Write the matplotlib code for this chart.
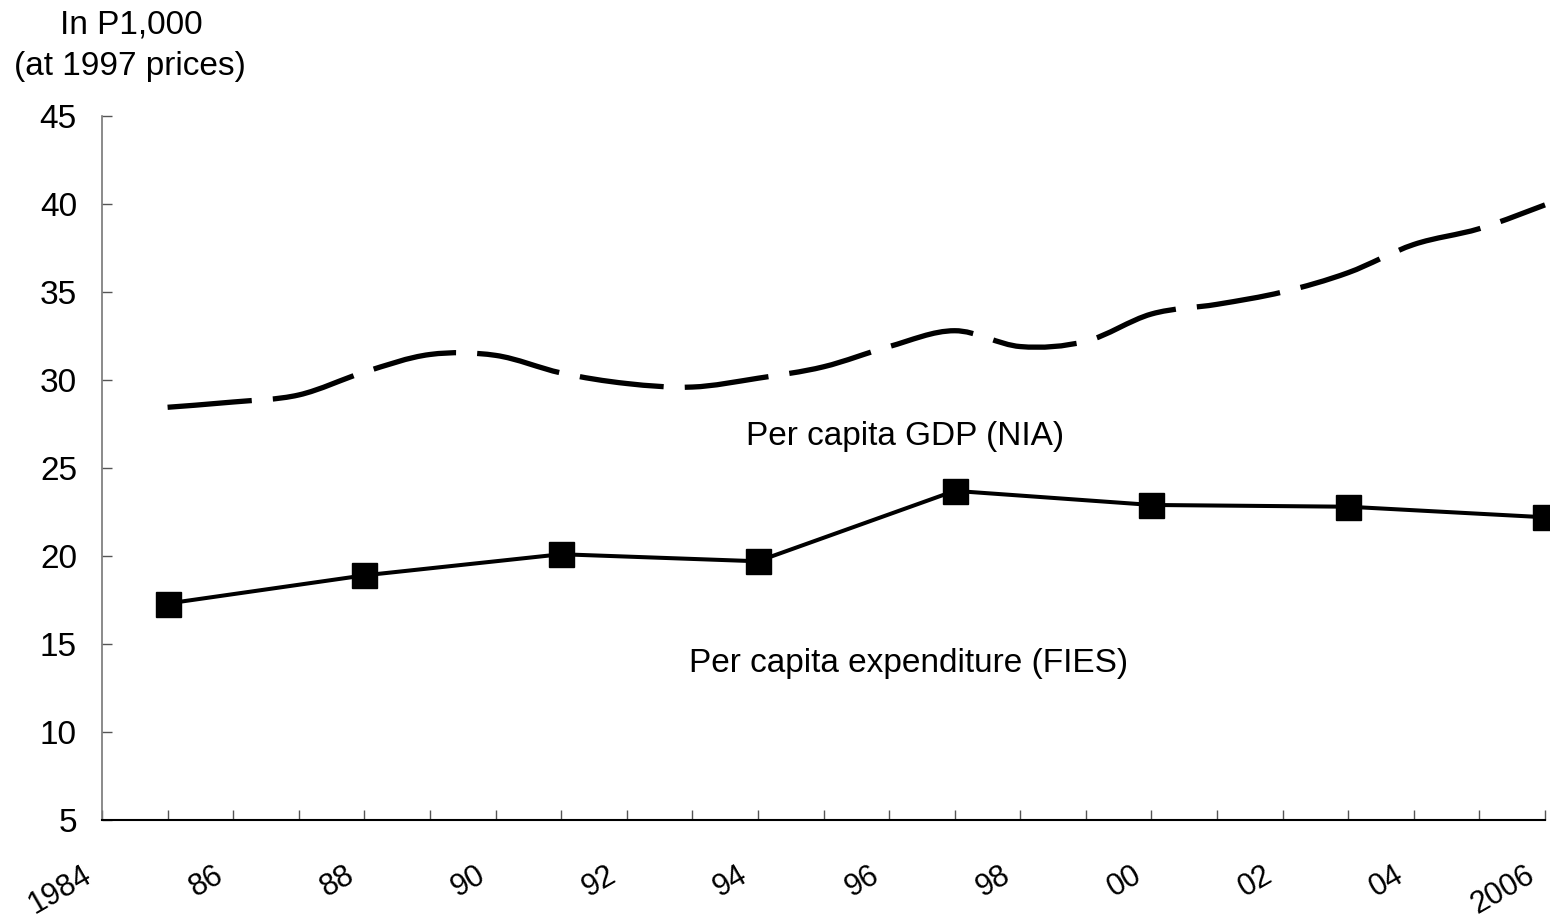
import matplotlib.pyplot as plt
import matplotlib.transforms as mtransforms
from matplotlib.path import Path
from matplotlib.patches import PathPatch

# --- data ---
gdp_years = list(range(1985, 2007))
gdp_values = [28.45, 28.75, 29.15, 30.45, 31.45, 31.4, 30.4, 29.8, 29.6, 30.1,
              30.75, 31.9, 32.8, 31.9, 32.2, 33.75, 34.3, 35.0, 36.1, 37.7,
              38.6, 39.95]

fies_years = [1985, 1988, 1991, 1994, 1997, 2000, 2003, 2006]
fies_values = [17.3, 18.9, 20.1, 19.7, 23.7, 22.9, 22.8, 22.2]

tick_years = list(range(1984, 2007, 2))
tick_labels = ["1984", "86", "88", "90", "92", "94", "96", "98", "00", "02", "04", "2006"]
yticks = [5, 10, 15, 20, 25, 30, 35, 40, 45]

FS = 24


def smooth_path(xs, ys):
    # spreadsheet-style smoothed line: bezier segments through every point
    verts = [(xs[0], ys[0])]
    codes = [Path.MOVETO]
    n = len(xs)
    for i in range(n - 1):
        x0, y0 = (xs[i - 1], ys[i - 1]) if i > 0 else (xs[i], ys[i])
        x1, y1 = xs[i], ys[i]
        x2, y2 = xs[i + 1], ys[i + 1]
        x3, y3 = (xs[i + 2], ys[i + 2]) if i + 2 < n else (x2, y2)
        c1 = (x1 + (x2 - x0) / 6, y1 + (y2 - y0) / 6)
        c2 = (x2 - (x3 - x1) / 6, y2 - (y3 - y1) / 6)
        verts += [c1, c2, (x2, y2)]
        codes += [Path.CURVE4] * 3
    return Path(verts, codes)


plt.rcParams['font.family'] = ['Liberation Sans', 'DejaVu Sans']

fig = plt.figure(figsize=(15.5, 9.18), dpi=100)
ax = fig.add_axes([102 / 1550, 1 - 820 / 918, 1443 / 1550, 704 / 918])

# --- series ---
gdp_patch = PathPatch(smooth_path(gdp_years, gdp_values), fill=False, edgecolor="black",
                      lw=3.8, capstyle="butt", clip_on=False)
gdp_patch.set_linestyle((0, (16, 4)))
ax.add_patch(gdp_patch)
ax.plot(fies_years, fies_values, color="black", lw=2.9, marker="s",
        markersize=18, clip_on=False, zorder=3)

ax.text(1996.25, 26.8, "Per capita GDP (NIA)", fontsize=FS, ha="center", va="center")
ax.text(1996.3, 13.9, "Per capita expenditure (FIES)", fontsize=FS, ha="center", va="center")

# --- axes ---
ax.set_xlim(1984, 2006)
ax.set_ylim(5, 45)
ax.set_yticks(yticks)
ax.set_yticklabels([str(v) for v in yticks], fontsize=FS)
ax.set_xticks(range(1984, 2007), minor=True)
ax.set_xticks(tick_years)
ax.set_xticklabels(tick_labels, fontsize=22, rotation=30, ha="right", va="top",
                   rotation_mode="anchor")

for side in ("top", "right"):
    ax.spines[side].set_visible(False)
ax.spines["left"].set_color("#777777")
ax.spines["bottom"].set_color("black")
ax.spines["left"].set_linewidth(1.2)
ax.spines["bottom"].set_linewidth(1.5)

ax.tick_params(axis="y", direction="in", length=7, width=1, color="#555555", pad=18)
ax.tick_params(axis="x", which="both", direction="in", length=7, width=1,
               color="#555555", pad=29)

offset = mtransforms.ScaledTranslation(-20 / 100, 0, fig.dpi_scale_trans)
for lab in ax.get_xticklabels():
    lab.set_transform(lab.get_transform() + offset)

fig.text(131 / 1550, 1 - 25 / 918, "In P1,000", fontsize=FS, ha="center", va="center")
fig.text(130 / 1550, 1 - 67 / 918, "(at 1997 prices)", fontsize=FS, ha="center", va="center")

fig.savefig("out.png", dpi=100)
